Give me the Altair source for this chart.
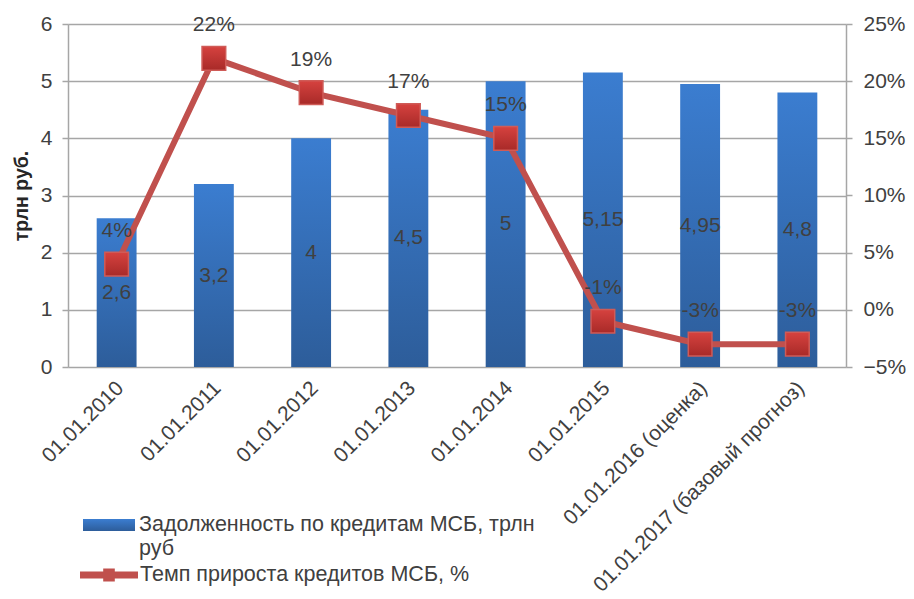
import altair as alt
import pandas as pd

categories = ["01.01.2010", "01.01.2011", "01.01.2012", "01.01.2013", "01.01.2014",
              "01.01.2015", "01.01.2016 (оценка)", "01.01.2017 (базовый прогноз)"]
debt = [2.6, 3.2, 4, 4.5, 5, 5.15, 4.95, 4.8]
debt_labels = ["2,6", "3,2", "4", "4,5", "5", "5,15", "4,95", "4,8"]
growth = [4, 22, 19, 17, 15, -1, -3, -3]
growth_labels = ["4%", "22%", "19%", "17%", "15%", "-1%", "-3%", "-3%"]

bar_name = "Задолженность по кредитам МСБ, трлн руб"
line_name = "Темп прироста кредитов МСБ, %"

df = pd.DataFrame({
    "cat": categories,
    "debt": debt,
    "debt_label": debt_labels,
    "growth": [g / 100 for g in growth],
    "growth_label": growth_labels,
})

FONT = "Liberation Sans"
TXT = "#404040"
GRID = "#a6a6a6"

bar_grad = alt.LinearGradient(
    gradient="linear", x1=0, y1=0, x2=0, y2=1,
    stops=[alt.GradientStop(color="#3b7dd0", offset=0),
           alt.GradientStop(color="#2d5d9a", offset=1)])
marker_grad = alt.LinearGradient(
    gradient="linear", x1=0, y1=0, x2=0, y2=1,
    stops=[alt.GradientStop(color="#d6423f", offset=0),
           alt.GradientStop(color="#a82a28", offset=1)])

x_axis = alt.Axis(labelAngle=-45, labelFontSize=21, labelColor=TXT, labelFont=FONT,
                  ticks=False, domain=False, labelPadding=10, labelLimit=400, grid=False,
                  labelOffset=-4)
x_scale = alt.Scale(paddingInner=0.59, paddingOuter=0.295)


def xenc():
    return alt.X("cat:N", sort=categories, title=None, scale=x_scale, axis=x_axis)


left_axis = alt.Axis(values=[0, 1, 2, 3, 4, 5, 6], labelFontSize=21, labelColor=TXT,
                     labelFont=FONT, titleFont=FONT, titleFontSize=19.5, titleFontWeight="bold",
                     titleColor="#262626", titlePadding=9, domainColor=GRID, domainWidth=1.5,
                     tickColor=GRID, tickWidth=1.5, tickSize=6, labelPadding=10,
                     grid=True, gridColor=GRID, gridWidth=1.5)
left_scale = alt.Scale(domain=[0, 6], nice=False)

right_axis = alt.Axis(orient="right", values=[-0.05, 0, 0.05, 0.1, 0.15, 0.2, 0.25],
                      format=".0%", labelFontSize=21, labelColor=TXT, labelFont=FONT,
                      domainColor=GRID, domainWidth=1.5, tickColor=GRID, tickWidth=1.5,
                      tickSize=6, labelPadding=11, grid=False)
right_scale = alt.Scale(domain=[-0.05, 0.25], nice=False)

bars = alt.Chart(df).mark_bar(fill=bar_grad, strokeWidth=0).encode(
    x=xenc(),
    y=alt.Y("debt:Q", title="трлн руб.", scale=left_scale, axis=left_axis),
    stroke=alt.Stroke("name:N", scale=alt.Scale(domain=[bar_name], range=["#3a78c6"]),
                      legend=alt.Legend(
                          title=None, orient="none", legendX=15, legendY=475,
                          symbolType="M-1,-0.23H1V0.23H-1Z", symbolSize=2704,
                          symbolFillColor="#3a78c6", symbolStrokeWidth=0,
                          labelFont=FONT, labelFontSize=21.5, labelColor=TXT, labelOffset=4,
                          labelLimit=600,
                          labelExpr="['Задолженность по кредитам МСБ, трлн', 'руб']")),
).transform_calculate(name=f"'{bar_name}'")

bar_text = alt.Chart(df).mark_text(font=FONT, fontSize=21, color=TXT).encode(
    x=xenc(),
    y=alt.Y("mid:Q", title="трлн руб.", scale=left_scale, axis=left_axis),
    text="debt_label:N",
).transform_calculate(mid="datum.debt / 2")

left = alt.layer(bars, bar_text)

line = alt.Chart(df).mark_line(strokeWidth=6).encode(
    x=xenc(),
    y=alt.Y("growth:Q", title=None, scale=right_scale, axis=right_axis),
    color=alt.Color("name:N", scale=alt.Scale(domain=[line_name], range=["#c0504d"]),
                    legend=alt.Legend(
                        title=None, orient="none", legendX=12, legendY=522,
                        symbolType="M-1,-0.12H-0.2V-0.22H0.2V-0.12H1V0.12H0.2V0.22H-0.2V0.12H-1Z",
                        symbolSize=3364, symbolFillColor="#c0504d", symbolStrokeColor="#c0504d",
                        symbolStrokeWidth=0,
                        labelFont=FONT, labelFontSize=21.5, labelColor=TXT, labelOffset=2,
                        labelLimit=600)),
).transform_calculate(name=f"'{line_name}'")

points = alt.Chart(df).mark_point(shape="square", filled=True, size=560, fill=marker_grad,
                                  stroke="#cf5b57", strokeWidth=1.5, opacity=1).encode(
    x=xenc(),
    y=alt.Y("growth:Q", title=None, scale=right_scale, axis=right_axis),
)

line_text = alt.Chart(df).mark_text(font=FONT, fontSize=21, color=TXT, dy=-33).encode(
    x=xenc(),
    y=alt.Y("growth:Q", title=None, scale=right_scale, axis=right_axis),
    text="growth_label:N",
)

right = alt.layer(line, points, line_text)

chart = alt.layer(left, right).resolve_scale(
    y="independent", color="independent", stroke="independent"
).properties(
    width=778, height=343,
    autosize=alt.AutoSizeParams(type="none"),
    padding={"left": 60, "top": 16, "right": 60, "bottom": 230},
).configure_view(strokeWidth=0).configure(background="white")

chart.save("out.html", embed_options={"renderer": "svg", "actions": False})
